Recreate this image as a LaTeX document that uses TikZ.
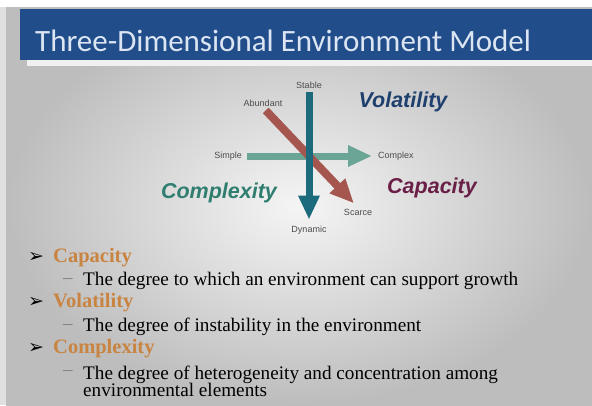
\documentclass[tikz,border=0pt]{standalone}
\usepackage{fontspec}
\setmainfont{Liberation Serif}
\newfontfamily\titlefont{Carlito}
\newfontfamily\labelfont{Liberation Sans}
\newfontfamily\symbolfont{DejaVu Sans}
\usetikzlibrary{arrows.meta,positioning}

\definecolor{titleblue}{HTML}{224D8B}
\definecolor{titletext}{HTML}{DCE6F2}
\definecolor{stableteal}{HTML}{1B6B7D}
\definecolor{simplegreen}{HTML}{6AA596}
\definecolor{abundantred}{HTML}{A5574F}
\definecolor{volblue}{HTML}{1F3F6F}
\definecolor{capmaroon}{HTML}{6A1F47}
\definecolor{cplxgreen}{HTML}{2F7E6F}
\definecolor{headorange}{HTML}{C98441}

\begin{document}
\begin{tikzpicture}[x=1pt, y=-1pt,
    axis/.style={line width=7pt, -{Triangle[width=20pt,length=24pt]}},
    pole/.style={font=\labelfont\fontsize{9}{10}\selectfont, text=black!70, inner sep=1pt},
    dimension/.style={font=\labelfont\bfseries\itshape\fontsize{21.5}{24}\selectfont},
    heading/.style={font=\bfseries\fontsize{20.5}{22}\selectfont, text=headorange, anchor=west, inner sep=0pt},
    detail/.style={font=\fontsize{19.2}{17.5}\selectfont, anchor=west, align=left, inner sep=0pt},
    bulletmark/.style={font=\symbolfont\fontsize{19}{19}\selectfont, anchor=west, inner sep=0pt},
    dashmark/.style={font=\fontsize{19}{19}\selectfont, text=black!50, anchor=west, inner sep=0pt}
]
    % Slide background
    \useasboundingbox (0,0) rectangle (592,405);
    \fill[white] (0,0) rectangle (592,405);
    \fill[black!12] (0,7) rectangle (6,405);
    \shade[inner color=black!4, outer color=black!26] (6,7) rectangle (592,405);

    % Title bar
    \fill[black!6] (27,60) rectangle (592,66);
    \fill[titleblue] (20,9) rectangle (592,60);
    \node[font=\titlefont\fontsize{31}{36}\selectfont, text=titletext, anchor=base west, inner sep=0pt]
        (title) at (35,51) {Three-Dimensional Environment Model};

    % Pole labels
    \node[pole] (stable) at (309,85) {Stable};
    \node[pole] (dynamic) at (309,230) {Dynamic};
    \node[pole, anchor=east] (simple) at (243,156) {Simple};
    \node[pole, anchor=west] (complex) at (377,156) {Complex};
    \node[pole] (abundant) at (263,103) {Abundant};
    \node[pole] (scarce) at (358,212) {Scarce};

    % Axes
    \draw[axis, simplegreen, shorten <=4pt, shorten >=5pt] (simple.east) -- (complex.west);
    \draw[axis, abundantred, line width=8pt, shorten <=4pt, shorten >=6pt] (abundant.south) -- (scarce.north);
    \draw[axis, stableteal, shorten <=2pt, shorten >=5pt] (stable.south) -- (dynamic.north);

    % Dimension names
    \node[dimension, text=volblue] (volatility) at (403,102) {Volatility};
    \node[dimension, text=capmaroon] (capacity) at (432,188) {Capacity};
    \node[dimension, text=cplxgreen] (complexity) at (219,193) {Complexity};

    % Definitions
    \node[bulletmark] (capbullet) at (28,257) {➢};
    \node[heading] (caphead) at (53,258) {Capacity};
    \node[dashmark] (capdash) at (63,281) {–};
    \node[detail] (capdesc) at (83,281) {The degree to which an environment can support growth};

    \node[bulletmark] (volbullet) at (28,302) {➢};
    \node[heading] (volhead) at (53,303) {Volatility};
    \node[dashmark] (voldash) at (63,327) {–};
    \node[detail] (voldesc) at (83,327) {The degree of instability in the environment};

    \node[bulletmark] (cplxbullet) at (28,348) {➢};
    \node[heading] (cplxhead) at (53,349) {Complexity};
    \node[dashmark] (cplxdash) at (63,373) {–};
    \node[detail, anchor=north west] (cplxdesc) at (83,365.5)
        {The degree of heterogeneity and concentration among\\environmental elements};
\end{tikzpicture}
\end{document}
